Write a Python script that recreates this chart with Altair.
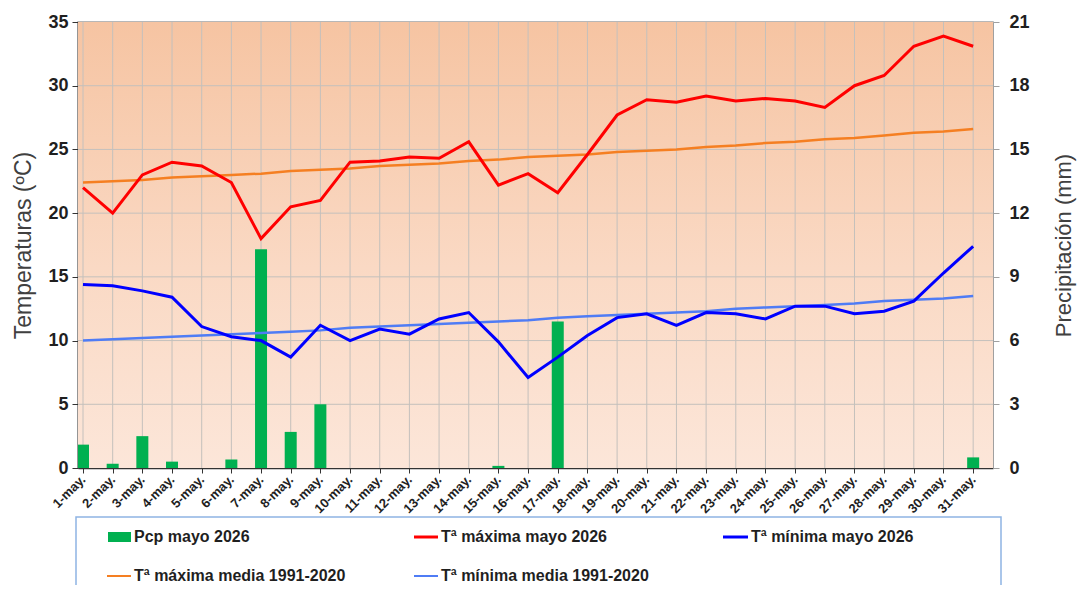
import json
import altair as alt
import pandas as pd

days = list(range(1, 32))
day_labels = [f"{d}-may." for d in days]
tmax = [22.0, 20.0, 23.0, 24.0, 23.7, 22.4, 18.0, 20.5, 21.0, 24.0, 24.1, 24.4, 24.3, 25.6, 22.2, 23.1,
        21.6, 24.6, 27.7, 28.9, 28.7, 29.2, 28.8, 29.0, 28.8, 28.3, 30.0, 30.8, 33.1, 33.9, 33.1]
tmin = [14.4, 14.3, 13.9, 13.4, 11.1, 10.3, 10.0, 8.7, 11.2, 10.0, 10.9, 10.5, 11.7, 12.2, 9.9, 7.1,
        8.7, 10.4, 11.8, 12.1, 11.2, 12.2, 12.1, 11.7, 12.7, 12.7, 12.1, 12.3, 13.1, 15.3, 17.4]
tmax_mean = [22.4, 22.5, 22.6, 22.8, 22.9, 23.0, 23.1, 23.3, 23.4, 23.5, 23.7, 23.8, 23.9, 24.1, 24.2, 24.4,
             24.5, 24.6, 24.8, 24.9, 25.0, 25.2, 25.3, 25.5, 25.6, 25.8, 25.9, 26.1, 26.3, 26.4, 26.6]
tmin_mean = [10.0, 10.1, 10.2, 10.3, 10.4, 10.5, 10.6, 10.7, 10.8, 11.0, 11.1, 11.2, 11.3, 11.4, 11.5, 11.6,
             11.8, 11.9, 12.0, 12.1, 12.2, 12.3, 12.5, 12.6, 12.7, 12.8, 12.9, 13.1, 13.2, 13.3, 13.5]
pcp = [1.1, 0.2, 1.5, 0.3, 0.0, 0.4, 10.3, 1.7, 3.0, 0.0, 0.0, 0.0, 0.0, 0.0, 0.1, 0.0,
       6.9, 0.0, 0.0, 0.0, 0.0, 0.0, 0.0, 0.0, 0.0, 0.0, 0.0, 0.0, 0.0, 0.0, 0.5]
temp_ticks = [0, 5, 10, 15, 20, 25, 30, 35]
pcp_ticks = [0, 3, 6, 9, 12, 15, 18, 21]
series_names = ["Pcp mayo 2026", "Tª máxima mayo 2026", "Tª mínima mayo 2026",
                "Tª máxima media 1991-2020", "Tª mínima media 1991-2020"]

df = pd.DataFrame({"day": days, "tmax": tmax, "tmin": tmin, "tmax_mean": tmax_mean,
                   "tmin_mean": tmin_mean, "pcp": pcp})
grid_df = pd.DataFrame({"t": temp_ticks[1:-1]})

W, H = 915, 446
FONT = "Liberation Sans"
xscale = alt.Scale(domain=[1, 31.5], nice=False, zero=False)
label_expr = json.dumps(day_labels) + "[datum.value - 1]"

x_axis = alt.Axis(values=days, labelExpr=label_expr, labelAngle=-45, labelAlign="right",
                  labelBaseline="middle", labelFont=FONT, labelFontSize=13, labelFontWeight="bold",
                  labelColor="#1f1f1f", labelOverlap=False, labelFlush=False, labelPadding=4,
                  tickSize=5, tickColor="#333333", domainColor="#333333", domainWidth=1.5,
                  grid=False, title=None)
X = alt.X("day:Q", scale=xscale, axis=x_axis)

tscale = alt.Scale(domain=[0, 35], nice=False, zero=True)
t_axis = alt.Axis(values=temp_ticks, orient="left", title="Temperaturas (ºC)", titleFont=FONT,
                  titleFontSize=23, titleFontWeight="normal", titleColor="#404040", titlePadding=12,
                  labelFont=FONT, labelFontSize=18, labelFontWeight="bold", labelColor="#1f1f1f",
                  labelPadding=4, tickSize=6, tickColor="#333333", domainColor="#333333",
                  domainWidth=1.5, grid=False)

base = alt.Chart(df)

# background + grid
bg = alt.Chart(alt.Data(values=[{}])).mark_rect(
    color=alt.LinearGradient(gradient="linear",
                             stops=[alt.GradientStop(color="#F6C4A2", offset=0),
                                    alt.GradientStop(color="#FAD9C4", offset=0.55),
                                    alt.GradientStop(color="#FCE6D9", offset=1)],
                             x1=0, x2=0, y1=0, y2=1)
).encode(x=alt.value(0), x2=alt.value(W), y=alt.value(0), y2=alt.value(H))
vgrid = base.mark_rule(color="#C4C0BC", strokeWidth=1).encode(x=X, y=alt.value(0), y2=alt.value(H))
hgrid = alt.Chart(grid_df).mark_rule(color="#C4C0BC", strokeWidth=1).encode(
    y=alt.Y("t:Q", scale=tscale, axis=None), x=alt.value(0), x2=alt.value(W))
back = alt.layer(bg, vgrid, hgrid)

bars = base.mark_bar(color="#00B050", width=12, clip=True).encode(
    x=X,
    y=alt.Y("pcp:Q", scale=alt.Scale(domain=[0, 21], nice=False),
            axis=alt.Axis(values=pcp_ticks, orient="right", title="Precipitación (mm)", titleFont=FONT,
                          titleFontSize=22, titleFontWeight="normal", titleColor="#404040",
                          titleAngle=270, titleBaseline="top",
                          titlePadding=24, labelFont=FONT, labelFontSize=18, labelFontWeight="bold",
                          labelColor="#1f1f1f", labelPadding=10, tickSize=6, tickColor="#A0A0A0",
                          domainColor="#A0A0A0", grid=False)))

Yt = lambda f: alt.Y(f"{f}:Q", scale=tscale, axis=t_axis)
l_tmaxm = base.mark_line(color="#F57F22", strokeWidth=2.5).encode(x=X, y=Yt("tmax_mean"))
l_tminm = base.mark_line(color="#4F7CF5", strokeWidth=2.5).encode(x=X, y=Yt("tmin_mean"))
l_tmax = base.mark_line(color="#FF0000", strokeWidth=3).encode(x=X, y=Yt("tmax"))
l_tmin = base.mark_line(color="#0000FF", strokeWidth=3).encode(x=X, y=Yt("tmin"))
lines = alt.layer(l_tmaxm, l_tminm, l_tmax, l_tmin)

# legend
one = alt.Data(values=[{}])
leg_box = alt.Chart(one).mark_rect(fillOpacity=0, stroke="#8EB4E3", strokeWidth=1.5).encode(
    x=alt.value(-2), x2=alt.value(923), y=alt.value(495), y2=alt.value(640))
leg_items = [leg_box]
sym = [("rect", "#00B050", 30, 53, 515), ("line3", "#FF0000", 336, 360, 515),
       ("line3", "#0000FF", 645, 670, 515), ("line2", "#F57F22", 29, 53, 554),
       ("line2", "#4F7CF5", 336, 360, 554)]
for name, (kind, col, x0, x1, yy) in zip(series_names, sym):
    if kind == "rect":
        s = alt.Chart(one).mark_rect(color=col).encode(
            x=alt.value(x0), x2=alt.value(x1), y=alt.value(yy - 5), y2=alt.value(yy + 5))
    else:
        s = alt.Chart(one).mark_rule(color=col, strokeWidth=3 if kind == "line3" else 2).encode(
            x=alt.value(x0), x2=alt.value(x1), y=alt.value(yy))
    t = alt.Chart(one).mark_text(align="left", baseline="middle", font=FONT, fontSize=16,
                                 fontWeight="bold", color="#1f1f1f").encode(
        x=alt.value(x1 + 3), y=alt.value(yy), text=alt.value(name))
    leg_items += [s, t]

chart = alt.layer(back, bars, lines, *leg_items).resolve_scale(y="independent").properties(
    width=W, height=H,
    padding={"left": 70, "top": 14, "right": 89, "bottom": 117},
    autosize=alt.AutoSizeParams(type="none"),
).configure_view(stroke="#A0A0A0", strokeWidth=1.5)

chart.save("out.html", embed_options={"renderer": "svg", "actions": False})
